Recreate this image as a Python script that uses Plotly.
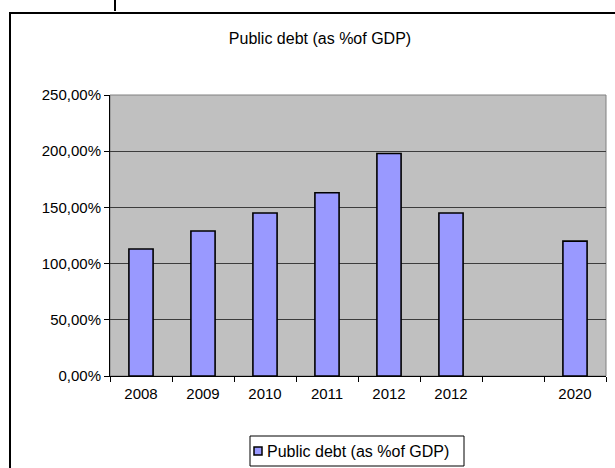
import plotly.graph_objects as go

# Data
categories = ["2008", "2009", "2010", "2011", "2012", "2012", "", "2020"]
values = [113, 129, 145, 163, 198, 145, None, 120]
series_name = "Public debt (as %of GDP)"
chart_title = "Public debt (as %of GDP)"

cat_ids = [f"c{i}" for i in range(len(categories))]

W, H = 615, 468
L, R, T, B = 110, 9, 95, 92
pw, ph = W - L - R, H - T - B

def px_x(x):
    return (x - L) / pw

def px_y(y):
    return (H - B - y) / ph

font = "Liberation Sans, Arial, sans-serif"
bar_color = "#9999ff"

fig = go.Figure()
fig.add_trace(go.Bar(
    x=cat_ids, y=values, name=series_name,
    marker=dict(color=bar_color, line=dict(color="black", width=1.6)),
    showlegend=False,
))

# legend box geometry (pixels)
lg_x0, lg_x1, lg_y0, lg_y1 = 250, 464, 436, 466
lg_mid = (lg_y0 + lg_y1) / 2

fig.update_layout(
    width=W, height=H,
    margin=dict(l=L, r=R, t=T, b=B, autoexpand=False),
    paper_bgcolor="white",
    plot_bgcolor="#c0c0c0",
    separators=", ",
    font=dict(family=font, size=15, color="black"),
    bargap=0.61,
    title=dict(text=chart_title, x=320 / W, xanchor="center",
               y=1 - 38 / H, yanchor="middle", yref="container", xref="container",
               font=dict(family=font, size=16, color="black")),
    showlegend=False,
    xaxis=dict(type="category", categoryorder="array", categoryarray=cat_ids,
               tickmode="array", tickvals=cat_ids, ticktext=categories,
               tickson="boundaries", ticks="outside", ticklen=5, tickcolor="black",
               ticklabelstandoff=4,
               showline=True, linecolor="black", linewidth=1, showgrid=False,
               range=[-0.5, len(categories) - 0.5], tickfont=dict(size=15)),
    yaxis=dict(range=[0, 250], dtick=50, tickformat=".2f", ticksuffix="%",
               ticks="outside", ticklen=5, tickcolor="black",
               showline=True, linecolor="black", linewidth=1,
               showgrid=True, gridcolor="#3c3c3c", gridwidth=1,
               zeroline=False, tickfont=dict(size=15)),
    shapes=[
        dict(type="rect", xref="paper", yref="paper", x0=0, x1=1, y0=0, y1=1,
             line=dict(color="#808080", width=1), layer="below"),
        # outer chart border
        dict(type="rect", xref="paper", yref="paper",
             x0=px_x(10), x1=px_x(640), y0=px_y(500), y1=px_y(13),
             line=dict(color="black", width=2)),
        # fragment of clipped text at top
        dict(type="line", xref="paper", yref="paper",
             x0=px_x(115), x1=px_x(115), y0=px_y(0), y1=px_y(11),
             line=dict(color="black", width=2)),
        # legend box
        dict(type="rect", xref="paper", yref="paper",
             x0=px_x(lg_x0), x1=px_x(lg_x1), y0=px_y(lg_y1), y1=px_y(lg_y0),
             line=dict(color="black", width=1), fillcolor="white"),
        # legend swatch
        dict(type="rect", xref="paper", yref="paper",
             x0=px_x(lg_x0 + 4), x1=px_x(lg_x0 + 12), y0=px_y(lg_mid + 4), y1=px_y(lg_mid - 4),
             line=dict(color="black", width=1.5), fillcolor=bar_color),
    ],
    annotations=[
        dict(text=series_name, xref="paper", yref="paper",
             x=px_x(lg_x0 + 15), y=px_y(lg_mid), xanchor="left", yanchor="middle",
             showarrow=False, font=dict(family=font, size=16, color="black")),
    ],
)

fig.write_html("out.html")
